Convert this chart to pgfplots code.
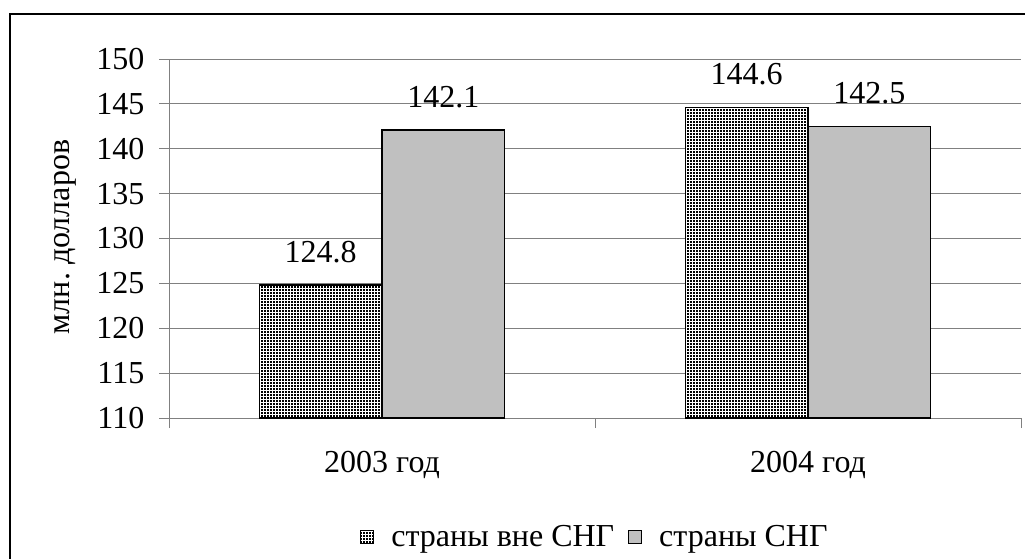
\documentclass[border=0pt]{standalone}
\usepackage{fontspec}
\setmainfont{Liberation Serif}
\usepackage{pgfplots}
\pgfplotsset{compat=1.18}
\usetikzlibrary{patterns}
\definecolor{barg}{RGB}{192,192,192}
\definecolor{gridg}{RGB}{128,128,128}
\pgfdeclarepatternformonly{finegrid}{\pgfqpoint{-0.1pt}{-0.1pt}}{\pgfqpoint{2.35pt}{2.35pt}}{\pgfqpoint{2.25pt}{2.25pt}}{%
  \pgfpathrectangle{\pgfqpoint{0pt}{0pt}}{\pgfqpoint{1.75pt}{1.75pt}}\pgfusepath{fill}}
\pgfplotsset{
  sqlegend/.style={legend image code/.code={\draw[##1,line width=0.75pt] (0pt,-5pt) rectangle (10pt,5pt);}}
}
\frenchspacing
\begin{document}
\begin{tikzpicture}[font=\fontsize{24}{28}\selectfont]
\useasboundingbox (0,0) rectangle (768.75pt,418.5pt);
\draw[line width=1.5pt] (7.5pt,-10pt) -- (7.5pt,408pt) -- (780pt,408pt);
\begin{axis}[
  at={(126.75pt,105pt)}, anchor=south west, scale only axis,
  width=639pt, height=269.25pt,
  xmin=0, xmax=2, ymin=110, ymax=150,
  ytick={110,115,120,125,130,135,140,145,150},
  yticklabels={110,115,120,125,130,135,140,145,150},
  yticklabel style={xshift=-7.5pt},
  xtick={0,1,2}, xticklabels={},
  extra x ticks={0.5,1.5}, extra x tick labels={2003 год,2004 год},
  extra x tick style={major tick length=0pt, grid=none, tick label style={anchor=base, yshift=-41pt}},
  axis x line*=bottom, axis y line*=left,
  axis line style={gridg, line width=0.75pt, -},
  tick style={gridg, line width=0.75pt}, tick align=outside, major tick length=7.5pt,
  ymajorgrids, grid style={gridg, line width=0.75pt},
  ybar=0pt, bar width=92pt,
  point meta=explicit symbolic,
  nodes near coords,
  every node near coord/.append style={anchor=base, yshift=17pt, text=black},
  ylabel={млн. долларов},
  ylabel style={at={(axis description cs:-0.122,0.504)}, anchor=center},
  legend style={at={(axis description cs:0.5,-0.331)}, anchor=center, draw=none, fill=none,
    legend columns=2,
    /tikz/every odd column/.append style={column sep=11pt},
    /tikz/every even column/.append style={column sep=8pt}},
]
\addplot[draw=black, line width=1.1pt, fill=white, postaction={pattern=finegrid, pattern color=black}, sqlegend]
  coordinates {(0.5,124.8) [124.8] (1.5,144.6) [144.6]};
\addlegendentry{страны вне СНГ}
\addplot[draw=black, line width=1.1pt, fill=barg, sqlegend]
  coordinates {(0.5,142.1) [142.1] (1.5,142.5) [142.5]};
\addlegendentry{страны СНГ}
\end{axis}
\end{tikzpicture}
\end{document}
